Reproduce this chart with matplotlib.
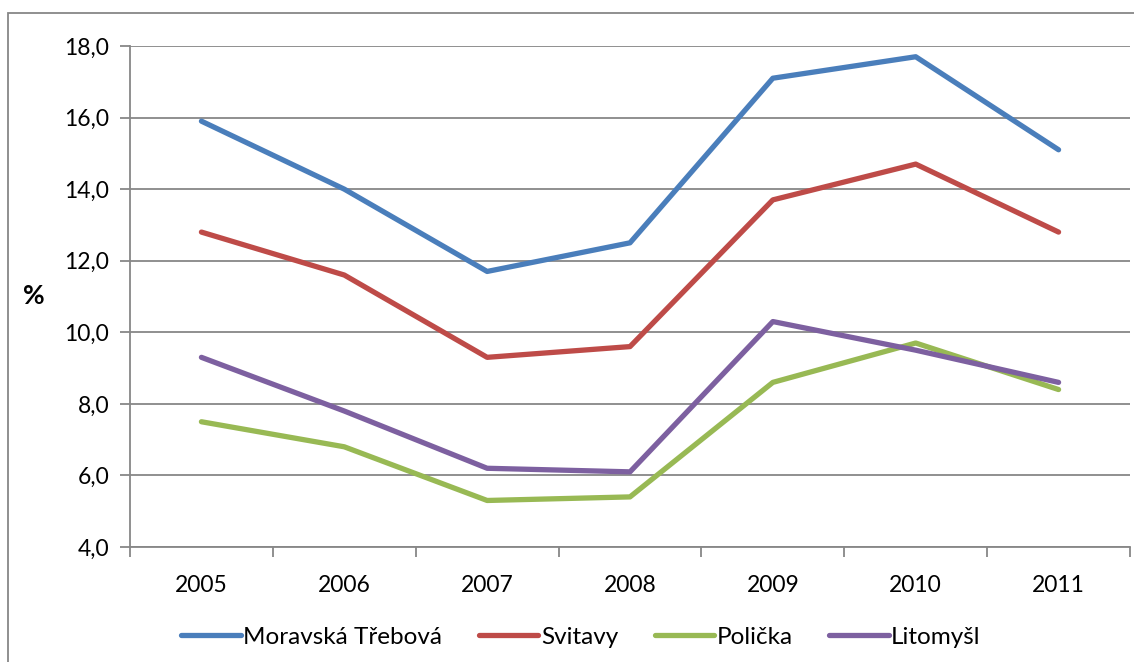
import numpy as np
import matplotlib.pyplot as plt
from matplotlib.patches import Rectangle

# Data
years = ['2005', '2006', '2007', '2008', '2009', '2010', '2011']
moravska_trebova = [15.9, 14.0, 11.7, 12.5, 17.1, 17.7, 15.1]
svitavy = [12.8, 11.6, 9.3, 9.6, 13.7, 14.7, 12.8]
policka = [7.5, 6.8, 5.3, 5.4, 8.6, 9.7, 8.4]
litomysl = [9.3, 7.8, 6.2, 6.1, 10.3, 9.5, 8.6]

series = [
    ('Moravská Třebová', moravska_trebova, '#4A7EBB'),
    ('Svitavy', svitavy, '#BE4B48'),
    ('Polička', policka, '#98B954'),
    ('Litomyšl', litomysl, '#7D60A0'),
]

plt.rcParams['font.family'] = ['Lato', 'DejaVu Sans']
grey = '#878787'

fig = plt.figure(figsize=(11.34, 6.62), dpi=100)
ax = fig.add_axes([130 / 1134, 115 / 662, 1000 / 1134, 501 / 662])

# Outer chart border
fig.patches.append(Rectangle((8 / 1134, -0.05), 1.2, (662 - 13) / 662 + 0.05,
                             transform=fig.transFigure, fill=False,
                             edgecolor=grey, linewidth=1.3))

x = np.arange(len(years))
for name, vals, color in series:
    ax.plot(x, vals, color=color, linewidth=3.8, label=name,
            solid_capstyle='round', solid_joinstyle='round')

ax.set_xlim(-0.5, len(years) - 0.5)
ax.set_ylim(4, 18)
ax.set_yticks(np.arange(4, 18.1, 2))
ax.set_yticklabels([f'{v:.1f}'.replace('.', ',') for v in np.arange(4, 18.1, 2)])

# category boundaries as major ticks, labels at centres
ax.set_xticks(np.arange(-0.5, len(years), 1.0))
ax.set_xticklabels([])
ax.set_xticks(x, minor=True)
ax.set_xticklabels(years, minor=True)
ax.tick_params(axis='x', which='minor', length=0, pad=20, labelsize=16.5)
ax.tick_params(axis='x', which='major', length=7, color=grey, width=1.3)
ax.tick_params(axis='y', length=7, color=grey, width=1.3, labelsize=16.5, pad=8)

ax.grid(axis='y', color=grey, linewidth=1.3)
ax.set_axisbelow(True)
for side in ['top', 'right']:
    ax.spines[side].set_visible(False)
for side in ['left', 'bottom']:
    ax.spines[side].set_color(grey)
    ax.spines[side].set_linewidth(1.3)

ax.set_ylabel('%', rotation=0, fontsize=19, fontweight='bold', labelpad=22, va='center')

ax.legend(loc='upper center', bbox_to_anchor=(0.451, -0.115), ncol=4, frameon=False,
          fontsize=17.5, handlelength=2.45, handletextpad=0.1, columnspacing=1.5)

plt.savefig('out.png')
